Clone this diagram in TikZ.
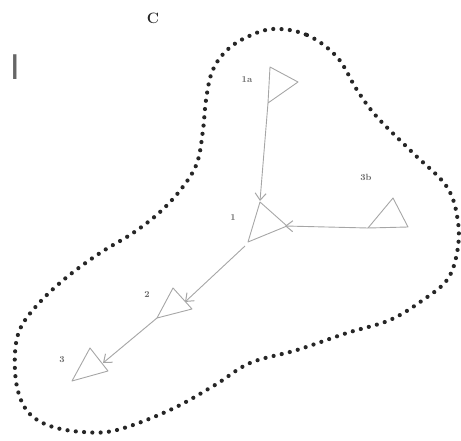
\documentclass[tikz,border=0pt]{standalone}
\usepackage{fontspec}
\newfontfamily\barfont{Liberation Sans}
\usetikzlibrary{arrows.meta}
\begin{document}
\begin{tikzpicture}[x=1pt,y=-1pt,
  tri/.style={draw=black!35,line width=0.9pt,line join=round},
  flow/.style={draw=black!35,line width=0.9pt,-{Straight Barb[length=7pt,width=11pt,line width=1pt]}},
  lab/.style={font=\fontsize{9}{9}\selectfont\bfseries,text=black!60,inner sep=0pt},
  blob/.style={draw=black!85,line width=4.2pt,line cap=round,dash pattern=on 0pt off 8.3pt}]
\useasboundingbox (0,0) rectangle (461,441);
% outer dotted region
\draw[blob] plot[smooth cycle,tension=0.6] coordinates {
 (273,29) (307,35) (337,57) (357,90) (377,117) (413,153) (447,187) (458,222)
 (457,253) (447,280) (423,300) (390,320) (347,333) (297,350) (250,363) (215,385)
 (170,410) (117,430) (83,432) (50,426) (28,412) (17,387) (15,353) (21,327)
 (40,302) (67,277) (100,253) (133,233) (160,212) (182,188) (197,163) (203,130)
 (206,100) (212,72) (225,52) (245,38)};
% letters
\node[font=\fontsize{15}{15}\selectfont\bfseries,text=black!85] (c) at (153,18) {C};
\node[font=\barfont\fontsize{36}{36}\selectfont,text=black!60,inner sep=0pt] (i) at (15,67) {I};
% triangles
\coordinate (a1) at (270,67); \coordinate (a2) at (298,82); \coordinate (a3) at (268,103);
\draw[tri] (a1) -- (a2) -- (a3) -- cycle;
\coordinate (o1) at (260,202); \coordinate (o2) at (287,226); \coordinate (o3) at (248,242);
\draw[tri] (o1) -- (o2) -- (o3) -- cycle;
\coordinate (b1) at (393,198); \coordinate (b2) at (408,227); \coordinate (b3) at (368,228);
\draw[tri] (b1) -- (b2) -- (b3) -- cycle;
\coordinate (t1) at (173,288); \coordinate (t2) at (192,309); \coordinate (t3) at (157,318);
\draw[tri] (t1) -- (t2) -- (t3) -- cycle;
\coordinate (h1) at (90,348); \coordinate (h2) at (108,371); \coordinate (h3) at (72,381);
\draw[tri] (h1) -- (h2) -- (h3) -- cycle;
% labels
\node[lab] (l1a) at (247,80) {1a};
\node[lab] (l3b) at (366,177) {3b};
\node[lab] (l1) at (233,218) {1};
\node[lab] (l2) at (147,295) {2};
\node[lab] (l3) at (62,360) {3};
% arrow targets
\coordinate (e1) at (260,201);
\coordinate (e2) at (285,226);
\coordinate (e3) at (185,302);
\coordinate (e4) at (103,363);
\coordinate (s3) at (245,246);
% connectors
\draw[flow] (a3) -- (e1);
\draw[flow] (b3) -- (e2);
\draw[flow] (s3) -- (e3);
\draw[flow] (t3) -- (e4);
\end{tikzpicture}
\end{document}
